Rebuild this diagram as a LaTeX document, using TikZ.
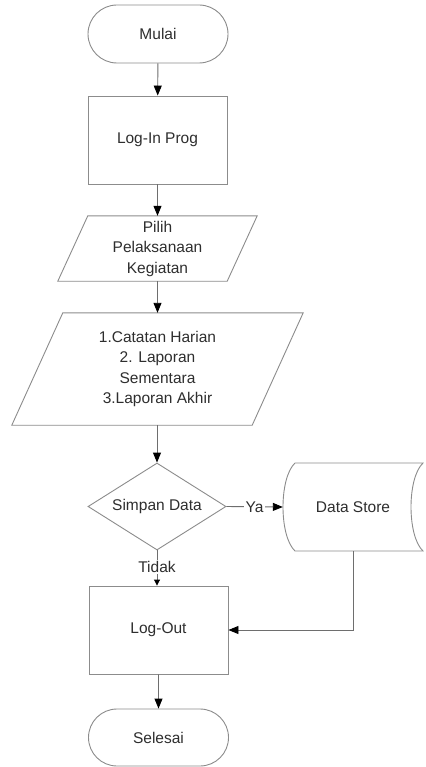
\documentclass[tikz,border=0pt]{standalone}
\usepackage{fontspec}
\setmainfont{Liberation Sans}
\usetikzlibrary{shapes.misc,shapes.geometric,arrows.meta,calc}
\definecolor{shapeline}{HTML}{8C8C8C}
\definecolor{linkline}{HTML}{6E6E6E}
\definecolor{txt}{HTML}{2E2E2E}
\begin{document}
\begin{tikzpicture}[x=1pt,y=1pt,
  every node/.style={font=\fontsize{15.5}{20.5}\selectfont, text=txt, align=center, inner sep=0pt},
  terminal/.style={rounded rectangle, draw=shapeline, line width=0.9pt, minimum width=140, minimum height=58},
  procbox/.style={rectangle, draw=shapeline, line width=0.9pt, minimum width=139, minimum height=88},
  iobody/.style={rectangle, draw=none},
  decision/.style={diamond, draw=shapeline, line width=0.9pt, aspect=1.59, minimum width=138, minimum height=87},
  outline/.style={draw=shapeline, line width=0.9pt},
  link/.style={draw=linkline, line width=0.9pt, -{Triangle[length=10pt,width=8pt,fill=black,color=black]}},
  lbl/.style={fill=white, inner sep=1.5pt}
]
\useasboundingbox (0,0) rectangle (425,-767);
\fill[white] (0,0) rectangle (425,-767);

% start / end terminals
\node[terminal] (mulai) at (158,-34) {Mulai};
\node[procbox] (login) at (157.5,-140) {Log-In Prog};

% input: choice of activity
\node[iobody, minimum width=169, minimum height=65] (pilih) at (157.5,-248.5) {Pilih\\Pelaksanaan\\Kegiatan};
\draw[outline] ($(pilih.north west)+(15,0)$) -- ($(pilih.north east)+(15,0)$)
  -- ($(pilih.south east)+(-15,0)$) -- ($(pilih.south west)+(-15,0)$) -- cycle;

% input: report types
\node[iobody, minimum width=240, minimum height=112] (lap) at (157.5,-369) {1.Catatan Harian\\2. Laporan\\Sementara\\3.Laporan Akhir};
\draw[outline] ($(lap.north west)+(25.5,0)$) -- ($(lap.north east)+(25.5,0)$)
  -- ($(lap.south east)+(-25.5,0)$) -- ($(lap.south west)+(-25.5,0)$) -- cycle;

% decision
\node[decision] (simpan) at (157,-506.5) {Simpan Data};

% stored data symbol
\node[iobody, minimum width=140, minimum height=88] (ds) at (353,-507) {Data Store};
\draw[outline] (295,-463) -- (423,-463)
  .. controls (407,-478) and (407,-536) .. (423,-551) -- (295,-551)
  .. controls (279,-536) and (279,-478) .. (295,-463);

\node[procbox] (logout) at (158.5,-630) {Log-Out};
\node[terminal, minimum height=57] (selesai) at (158.5,-737.5) {Selesai};

% connectors
\draw[link] (mulai) -- (login);
\draw[link] (login) -- (pilih.north -| login);
\draw[link] (pilih.south -| login) -- (lap.north -| login);
\draw[link] (lap.south -| simpan) -- (simpan.north);
\draw[link] (simpan.east) -- node[lbl] {Ya} (ds.west);
\draw[draw=linkline, line width=0.9pt, -{Triangle[length=6pt,width=6pt,fill=black,color=black]}]
  (simpan.south) -- node[lbl, pos=0.48] {Tidak} (simpan.south |- logout.north);
\draw[link] (ds.south) |- (logout.east);
\draw[link] (logout) -- (selesai);
\end{tikzpicture}
\end{document}
